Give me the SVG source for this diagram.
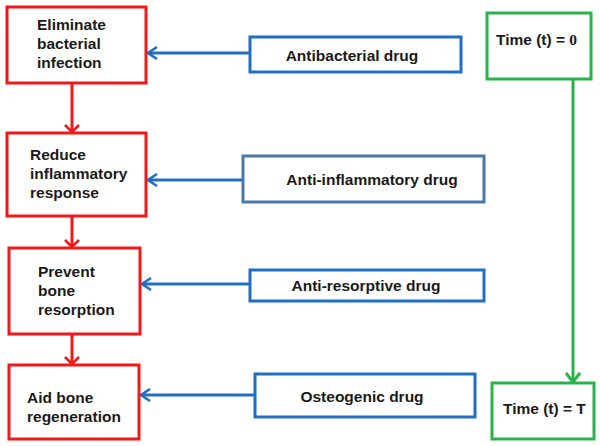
<svg xmlns="http://www.w3.org/2000/svg" width="600" height="446" viewBox="0 0 600 446">
<defs>
<style>
text{font-family:"Liberation Sans",Arial,sans-serif;font-weight:bold;font-size:15.5px;fill:#1a1a1a}
.red{fill:#fff;stroke:#f01818;stroke-width:3}
.blue{fill:#fff;stroke:#1f6fc2;stroke-width:3}
.steel{fill:#fff;stroke:#4a78aa;stroke-width:3}
.green{fill:#fff;stroke:#2cb24a;stroke-width:3}
.lr{stroke:#f01818;stroke-width:3;fill:none}
.lb{stroke:#1f6fc2;stroke-width:3;fill:none}
.lg{stroke:#2cb24a;stroke-width:3;fill:none}
</style>
<marker id="ar" markerWidth="10" markerHeight="16" refX="8" refY="8" orient="auto" markerUnits="userSpaceOnUse">
<path d="M1,1 L8,8 L1,15" fill="none" stroke="#f01818" stroke-width="2.5"/>
</marker>
<marker id="ab" markerWidth="12" markerHeight="14" refX="10" refY="7" orient="auto" markerUnits="userSpaceOnUse">
<path d="M1,1 L10,7 L1,13" fill="none" stroke="#1f6fc2" stroke-width="2.5"/>
</marker>
<marker id="ag" markerWidth="12" markerHeight="16" refX="10" refY="8" orient="auto" markerUnits="userSpaceOnUse">
<path d="M1,1 L10,8 L1,15" fill="none" stroke="#2cb24a" stroke-width="3"/>
</marker>
</defs>
<g id="connectors">
<line class="lr" x1="72" y1="83" x2="72" y2="132" marker-end="url(#ar)"/>
<line class="lr" x1="72" y1="216" x2="72" y2="247" marker-end="url(#ar)"/>
<line class="lr" x1="72" y1="334" x2="72" y2="364" marker-end="url(#ar)"/>
<line class="lb" x1="250" y1="53" x2="148" y2="53" marker-end="url(#ab)"/>
<line class="lb" x1="243" y1="180" x2="148" y2="180" marker-end="url(#ab)"/>
<line class="lb" x1="250" y1="284" x2="142" y2="284" marker-end="url(#ab)"/>
<line class="lb" x1="255" y1="395" x2="141" y2="395" marker-end="url(#ab)"/>
<line class="lg" x1="573" y1="79" x2="573" y2="382" marker-end="url(#ag)"/>
</g>
<g id="n1"><rect class="red" x="7" y="7" width="139" height="76"/>
<text x="37" y="30">Eliminate</text><text x="37" y="49">bacterial</text><text x="37" y="68">infection</text></g>
<g id="n2"><rect class="red" x="7" y="133" width="139" height="83"/>
<text x="30" y="160">Reduce</text><text x="30" y="179">inflammatory</text><text x="30" y="198">response</text></g>
<g id="n3"><rect class="red" x="9" y="248" width="131" height="86"/>
<text x="38" y="277">Prevent</text><text x="38" y="296">bone</text><text x="38" y="315">resorption</text></g>
<g id="n4"><rect class="red" x="9" y="365" width="130" height="74"/>
<text x="27" y="403">Aid bone</text><text x="27" y="422">regeneration</text></g>
<g id="d1"><rect class="blue" x="250" y="37" width="211" height="35"/>
<text x="352" y="61" text-anchor="middle">Antibacterial drug</text></g>
<g id="d2"><rect class="steel" x="243" y="156" width="241" height="46"/>
<text x="372" y="185" text-anchor="middle">Anti-inflammatory drug</text></g>
<g id="d3"><rect class="blue" x="250" y="270" width="234" height="31"/>
<text x="366" y="291" text-anchor="middle">Anti-resorptive drug</text></g>
<g id="d4"><rect class="blue" x="255" y="374" width="220" height="43"/>
<text x="362" y="402" text-anchor="middle">Osteogenic drug</text></g>
<g id="t0"><rect class="green" x="487" y="13" width="104" height="66"/>
<text x="496" y="45">Time (t) = <tspan font-family="'Liberation Serif',serif">0</tspan></text></g>
<g id="tT"><rect class="green" x="492" y="383" width="102" height="56"/>
<text x="503" y="414">Time (t) = T</text></g>
</svg>
